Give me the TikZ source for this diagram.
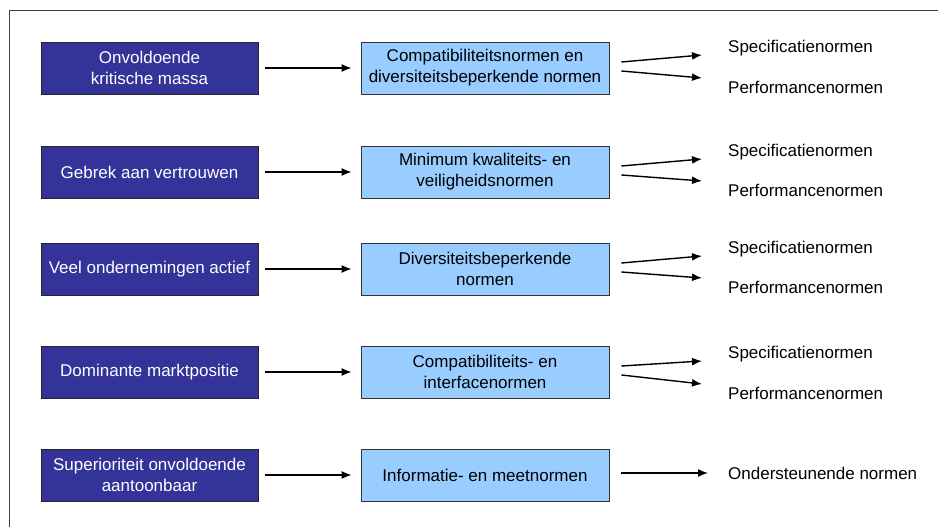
\documentclass[tikz,border=0pt]{standalone}
\usepackage{fontspec}
\setmainfont{Liberation Sans}
\usetikzlibrary{arrows.meta,calc}
\definecolor{darkblue}{HTML}{333399}
\definecolor{lightblue}{HTML}{99CCFF}

\begin{document}
\begin{tikzpicture}[x=1pt,y=-1pt,
	cause/.style={draw=black!85,line width=0.8pt,fill=darkblue,text=white,minimum width=217pt,minimum height=52pt,inner sep=0pt,align=center,font=\fontsize{17}{21}\selectfont},
	norm/.style={draw=black!80,line width=0.8pt,fill=lightblue,text=black,minimum width=248pt,minimum height=52pt,inner sep=0pt,align=center,font=\fontsize{17}{21}\selectfont},
	kind/.style={anchor=west,inner sep=0pt,font=\fontsize{17}{21}\selectfont},
	arr/.style={-{Latex[length=10pt,width=8pt]},line width=1.4pt}]
	\useasboundingbox (0,0) rectangle (938,527);

	%frame
	\draw[black!75,line width=1pt] (9,527)--(9,11)--(938,11);

	%causes
	\node[cause] (c1) at (149.5,68)  {Onvoldoende\\kritische massa};
	\node[cause] (c2) at (149.5,172) {Gebrek aan vertrouwen};
	\node[cause] (c3) at (149.5,269) {Veel ondernemingen actief};
	\node[cause] (c4) at (149.5,372) {Dominante marktpositie};
	\node[cause] (c5) at (149.5,475) {Superioriteit onvoldoende\\aantoonbaar};

	%norms
	\node[norm] (n1) at (485,68)  {Compatibiliteitsnormen en\\diversiteitsbeperkende normen};
	\node[norm] (n2) at (485,172) {Minimum kwaliteits- en\\veiligheidsnormen};
	\node[norm] (n3) at (485,269) {Diversiteitsbeperkende\\normen};
	\node[norm] (n4) at (485,372) {Compatibiliteits- en\\interfacenormen};
	\node[norm] (n5) at (485,475) {Informatie- en meetnormen};

	%kinds
	\node[kind] (s1) at (728,48)  {Specificatienormen};
	\node[kind] (p1) at (728,87)  {Performancenormen};
	\node[kind] (s2) at (728,152) {Specificatienormen};
	\node[kind] (p2) at (728,190) {Performancenormen};
	\node[kind] (s3) at (728,249) {Specificatienormen};
	\node[kind] (p3) at (728,287) {Performancenormen};
	\node[kind] (s4) at (728,354) {Specificatienormen};
	\node[kind] (p4) at (728,393) {Performancenormen};
	\node[kind] (o5) at (728,473) {Ondersteunende normen};

	%arrows left
	\draw[arr,shorten <=7pt,shorten >=9pt] (c1.east)--(n1.west);
	\draw[arr,shorten <=7pt,shorten >=9pt] (c2.east)--(n2.west);
	\draw[arr,shorten <=7pt,shorten >=9pt] (c3.east)--(n3.west);
	\draw[arr,shorten <=7pt,shorten >=9pt] (c4.east)--(n4.west);
	\draw[arr,shorten <=7pt,shorten >=9pt] (c5.east)--(n5.west);

	%arrows right
	\draw[arr] ($(n1.east)+(12,-6)$)--($(s1.west)+(-26,7)$);
	\draw[arr] ($(n1.east)+(12,3)$)--($(p1.west)+(-26,-9)$);
	\draw[arr] ($(n2.east)+(12,-6)$)--($(s2.west)+(-26,7)$);
	\draw[arr] ($(n2.east)+(12,3)$)--($(p2.west)+(-26,-9)$);
	\draw[arr] ($(n3.east)+(12,-6)$)--($(s3.west)+(-26,7)$);
	\draw[arr] ($(n3.east)+(12,3)$)--($(p3.west)+(-26,-9)$);
	\draw[arr] ($(n4.east)+(12,-6)$)--($(s4.west)+(-26,7)$);
	\draw[arr] ($(n4.east)+(12,3)$)--($(p4.west)+(-26,-9)$);
	\draw[arr] ($(n5.east)+(12,-2)$)--($(o5.west)+(-20,0)$);
\end{tikzpicture}
\end{document}
